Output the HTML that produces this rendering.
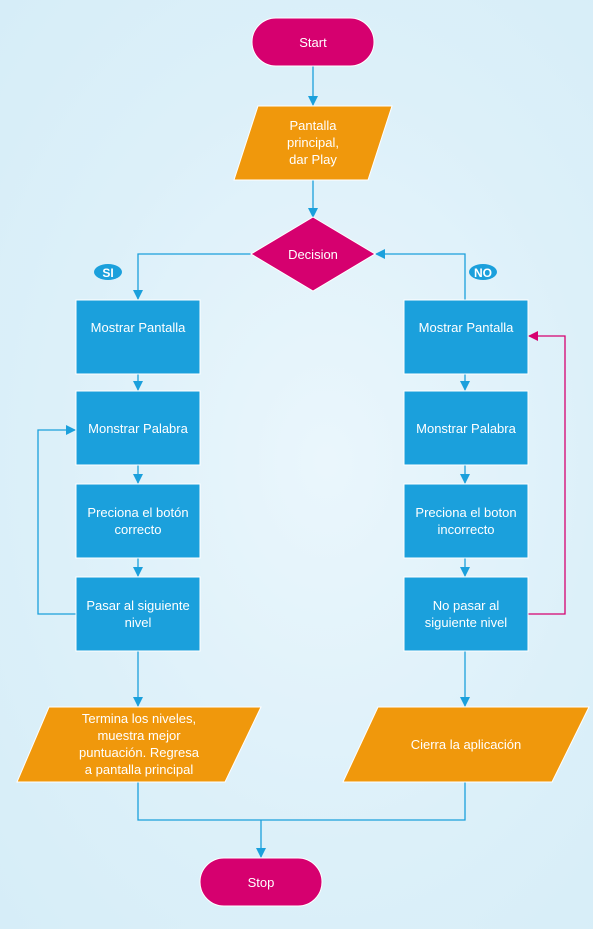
<!DOCTYPE html>
<html><head><meta charset="utf-8"><style>
html,body{margin:0;padding:0}
body{width:593px;height:924px;overflow:hidden;background:radial-gradient(ellipse at 55% 50%,#eaf6fc 0%,#dcf0f9 60%,#d6edf8 100%);font-family:"Liberation Sans",sans-serif}
</style></head><body>
<svg width="593" height="924" viewBox="0 0 593 924" xmlns="http://www.w3.org/2000/svg" font-family="Liberation Sans, sans-serif" font-size="13" fill="#fff">
<defs>
<marker id="ab" markerWidth="10" markerHeight="10" refX="9" refY="5" orient="auto" markerUnits="userSpaceOnUse"><path d="M0,0 L10,5 L0,10 z" fill="#1ba0dc"/></marker>
<marker id="am" markerWidth="10" markerHeight="10" refX="9" refY="5" orient="auto" markerUnits="userSpaceOnUse"><path d="M0,0 L10,5 L0,10 z" fill="#d6006f"/></marker>
</defs>
<g stroke="#1ba0dc" stroke-width="1.3" fill="none">
<path d="M313 66 V105" marker-end="url(#ab)"/>
<path d="M313 180 V217" marker-end="url(#ab)"/>
<path d="M251 254 H138 V299" marker-end="url(#ab)"/>
<path d="M465 300 V254 H376" marker-end="url(#ab)"/>
<path d="M138 374 V390" marker-end="url(#ab)"/>
<path d="M138 465 V483" marker-end="url(#ab)"/>
<path d="M138 558 V576" marker-end="url(#ab)"/>
<path d="M465 374 V390" marker-end="url(#ab)"/>
<path d="M465 465 V483" marker-end="url(#ab)"/>
<path d="M465 558 V576" marker-end="url(#ab)"/>
<path d="M76 614 H38 V430 H75" marker-end="url(#ab)"/>
<path d="M138 651 V706" marker-end="url(#ab)"/>
<path d="M465 651 V706" marker-end="url(#ab)"/>
<path d="M138 782 V820 H465 V782"/>
<path d="M261 820 V857" marker-end="url(#ab)"/>
</g>
<path d="M528 614 H565 V336 H529" stroke="#d6006f" stroke-width="1.3" fill="none" marker-end="url(#am)"/>
<g stroke="#fff" stroke-width="1">
<rect x="252" y="18" width="122" height="48" rx="24" fill="#d6006f"/>
<rect x="200" y="858" width="122" height="48" rx="24" fill="#d6006f"/>
<polygon points="258,106 392,106 368,180 234,180" fill="#f0980c"/>
<polygon points="313,217 375,254 313,291 251,254" fill="#d6006f"/>
<rect x="76" y="300" width="124" height="74" fill="#1ba0dc"/>
<rect x="76" y="391" width="124" height="74" fill="#1ba0dc"/>
<rect x="76" y="484" width="124" height="74" fill="#1ba0dc"/>
<rect x="76" y="577" width="124" height="74" fill="#1ba0dc"/>
<rect x="404" y="300" width="124" height="74" fill="#1ba0dc"/>
<rect x="404" y="391" width="124" height="74" fill="#1ba0dc"/>
<rect x="404" y="484" width="124" height="74" fill="#1ba0dc"/>
<rect x="404" y="577" width="124" height="74" fill="#1ba0dc"/>
<polygon points="49,707 261,707 225,782 17,782" fill="#f0980c"/>
<polygon points="378,707 589,707 552,782 343,782" fill="#f0980c"/>
</g>
<ellipse cx="108" cy="272" rx="14" ry="8" fill="#1ba0dc"/>
<ellipse cx="483" cy="272" rx="14" ry="8" fill="#1ba0dc"/>
<g text-anchor="middle">
<text x="108" y="277" font-weight="bold" font-size="12">SI</text>
<text x="483" y="277" font-weight="bold" font-size="12">NO</text>
<text x="313" y="47">Start</text>
<text x="261" y="887">Stop</text>
<text x="313" y="130">Pantalla</text>
<text x="313" y="147">principal,</text>
<text x="313" y="164">dar Play</text>
<text x="313" y="259">Decision</text>
<text x="138" y="332">Mostrar Pantalla</text>
<text x="138" y="433">Monstrar Palabra</text>
<text x="138" y="517">Preciona el botón</text>
<text x="138" y="534">correcto</text>
<text x="138" y="610">Pasar al siguiente</text>
<text x="138" y="627">nivel</text>
<text x="466" y="332">Mostrar Pantalla</text>
<text x="466" y="433">Monstrar Palabra</text>
<text x="466" y="517">Preciona el boton</text>
<text x="466" y="534">incorrecto</text>
<text x="466" y="610">No pasar al</text>
<text x="466" y="627">siguiente nivel</text>
<text x="139" y="723">Termina los niveles,</text>
<text x="139" y="740">muestra mejor</text>
<text x="139" y="757">puntuación. Regresa</text>
<text x="139" y="774">a pantalla principal</text>
<text x="466" y="749">Cierra la aplicación</text>
</g>
</svg>
</body></html>
